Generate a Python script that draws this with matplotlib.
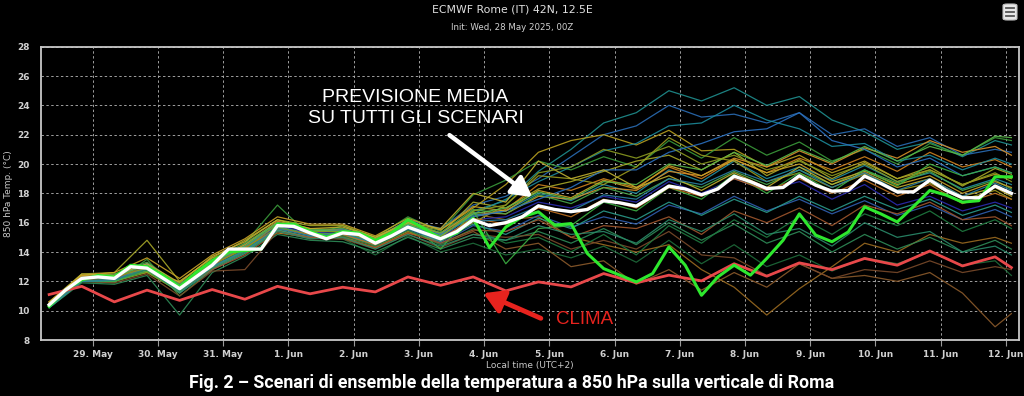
import matplotlib
matplotlib.use("Agg")
import matplotlib.pyplot as plt
from matplotlib.patches import FancyBboxPatch
from matplotlib.lines import Line2D

# ---------------- data ----------------
# lead times (hours after init 28 May 2025 00Z = 02:00 local)
lead_hours = list(range(6, 361, 6))
member_hours = list(range(6, 355, 12)) + [360]
clim_hours = list(range(6, 355, 12)) + [360]

tick_days = list(range(0, 15))
tick_labels = ["29. May", "30. May", "31. May", "1. Jun", "2. Jun", "3. Jun", "4. Jun",
               "5. Jun", "6. Jun", "7. Jun", "8. Jun", "9. Jun", "10. Jun", "11. Jun", "12. Jun"]
y_ticks = [8, 10, 12, 14, 16, 18, 20, 22, 24, 26, 28]

mean_temp = [10.4, 11.4, 12.2, 12.3, 12.2, 13.0, 12.9, 12.2, 11.5, 12.3,
             13.1, 14.2, 14.2, 14.2, 15.8, 15.75, 15.3, 14.9, 15.3, 15.2,
             14.6, 15.1, 15.7, 15.3, 14.9, 15.4, 16.2, 15.8, 16.0, 16.4,
             17.15, 16.9, 16.75, 16.9, 17.5, 17.35, 17.13, 17.8, 18.5, 18.3,
             17.9, 18.3, 19.17, 18.8, 18.33, 18.4, 19.2, 18.56, 18.15, 18.2,
             19.17, 18.67, 18.1, 18.1, 18.9, 18.2, 17.7, 17.7, 18.5, 18.0]

control_temp = [10.3, 11.4, 12.1, 12.4, 12.3, 13.1, 13.0, 12.4, 11.6, 12.6,
                13.4, 14.0, 14.1, 14.2, 15.9, 15.9, 15.4, 15.0, 15.4, 15.3,
                14.8, 15.3, 16.2, 15.6, 14.9, 15.3, 16.3, 14.3, 15.7, 16.4,
                16.74, 15.83, 15.94, 13.9, 12.87, 12.42, 11.96, 12.53, 14.35, 13.1,
                11.05, 12.3, 13.1, 12.42, 13.56, 14.8, 16.6, 15.15, 14.7, 15.37,
                17.08, 16.6, 16.05, 17.1, 18.2, 17.88, 17.4, 17.5, 19.13, 19.13]

clim_temp = [11.1, 11.66, 10.6, 11.4, 10.7, 11.44, 10.78, 11.66, 11.15, 11.6,
             11.28, 12.3, 11.73, 12.3, 11.35, 11.96, 11.62, 12.53, 11.9, 12.42,
             12.03, 13.2, 12.35, 13.26, 12.8, 13.56, 13.1, 14.07, 13.05, 13.67, 12.94]

m01 = [10.3, 12.1, 12.3, 13.2, 11.4, 13.0, 14.5, 16.0, 15.4, 15.5, 14.7, 16.0, 15.2, 16.8, 17.5, 19.5, 21.0, 22.8, 23.5, 25.0, 24.3, 25.2, 24.0, 24.6, 23.0, 22.2, 21.0, 21.5, 20.5, 21.6, 21.3]
m02 = [10.5, 12.2, 12.0, 13.0, 11.8, 13.4, 14.0, 15.6, 15.2, 15.6, 14.9, 16.2, 15.6, 17.2, 17.8, 19.0, 20.5, 22.0, 22.6, 24.0, 23.2, 23.4, 22.8, 23.5, 22.0, 22.4, 21.2, 21.8, 20.6, 21.0, 20.8]
m03 = [10.4, 12.4, 12.5, 12.8, 11.6, 13.2, 14.3, 15.7, 15.3, 15.0, 14.5, 15.9, 15.5, 17.0, 18.6, 20.8, 21.6, 22.0, 21.3, 22.3, 20.9, 21.0, 19.8, 20.6, 19.4, 20.2, 19.0, 19.6, 18.6, 19.3, 19.0]
m04 = [10.2, 12.0, 11.9, 13.5, 11.0, 12.8, 14.6, 17.2, 15.1, 15.8, 15.0, 16.4, 15.4, 17.9, 18.9, 20.2, 19.6, 20.5, 19.8, 21.6, 20.4, 21.8, 20.6, 21.5, 20.2, 21.0, 20.0, 21.4, 20.6, 21.8, 21.6]
m05 = [10.6, 12.3, 12.4, 12.6, 12.0, 13.6, 14.1, 15.3, 15.0, 14.9, 14.3, 15.3, 14.8, 16.4, 16.9, 18.6, 18.2, 19.0, 18.4, 19.8, 19.0, 20.3, 19.4, 20.4, 19.6, 20.5, 19.5, 20.8, 19.8, 20.3, 19.8]
m06 = [10.3, 12.1, 12.1, 12.7, 11.3, 12.9, 13.9, 15.5, 15.0, 14.9, 13.8, 15.1, 14.0, 14.6, 13.8, 14.2, 13.6, 14.4, 13.3, 14.8, 13.2, 14.5, 13.0, 13.8, 12.7, 13.6, 13.2, 14.0, 13.1, 13.4, 12.4]
m07 = [10.5, 12.2, 12.3, 13.0, 11.6, 13.0, 14.1, 15.6, 15.2, 15.2, 14.5, 15.5, 14.5, 15.4, 14.2, 14.6, 13.0, 13.4, 11.8, 12.8, 11.4, 12.6, 11.6, 13.2, 12.2, 12.4, 12.0, 12.6, 11.2, 8.9, 9.8]
m08 = [10.4, 12.3, 12.1, 12.8, 11.2, 13.3, 14.3, 15.9, 15.4, 15.4, 14.7, 15.9, 15.3, 16.6, 16.2, 16.4, 15.0, 14.5, 14.0, 14.5, 12.8, 11.6, 9.7, 11.5, 13.0, 14.6, 14.0, 15.2, 14.6, 15.0, 14.6]
m09 = [10.3, 12.2, 12.4, 13.1, 11.7, 13.3, 14.4, 15.8, 15.5, 15.4, 14.8, 15.9, 15.0, 16.5, 16.8, 18.0, 17.5, 18.6, 18.0, 19.6, 18.8, 20.2, 19.0, 19.8, 18.9, 19.9, 18.8, 19.4, 18.3, 19.0, 18.6]
m10 = [10.4, 12.1, 12.0, 12.8, 11.4, 13.0, 14.0, 15.7, 15.1, 15.2, 14.4, 15.5, 14.6, 15.8, 15.4, 16.5, 15.7, 16.4, 15.9, 17.2, 16.6, 17.8, 16.8, 17.6, 16.6, 17.5, 16.5, 17.2, 16.2, 16.9, 16.4]
m11 = [10.5, 12.5, 12.6, 14.8, 12.0, 13.6, 14.8, 16.2, 15.8, 15.8, 15.0, 16.1, 15.2, 17.4, 17.0, 18.3, 18.8, 19.5, 20.2, 20.6, 19.6, 20.8, 19.2, 20.3, 19.0, 20.1, 19.0, 19.8, 18.5, 19.7, 19.3]
m12 = [10.2, 11.9, 11.8, 12.4, 9.7, 12.6, 13.7, 15.2, 14.8, 14.7, 14.0, 15.0, 14.2, 15.0, 14.8, 15.4, 14.6, 15.6, 14.5, 16.0, 14.8, 15.9, 14.6, 15.4, 14.0, 15.2, 14.2, 15.0, 14.0, 14.8, 14.2]
m13 = [10.4, 12.2, 12.2, 12.9, 11.5, 13.1, 14.2, 15.8, 15.3, 15.4, 14.6, 15.7, 15.0, 16.2, 16.4, 17.4, 17.0, 17.8, 17.4, 18.8, 18.0, 19.0, 18.2, 18.8, 17.6, 18.6, 17.2, 17.8, 16.8, 17.4, 17.0]
m14 = [10.6, 12.4, 12.3, 12.7, 11.7, 13.4, 14.5, 16.1, 15.6, 15.5, 14.9, 16.0, 15.3, 16.7, 16.6, 17.8, 17.6, 18.4, 18.2, 19.5, 19.2, 20.4, 19.8, 20.9, 20.0, 21.1, 20.4, 21.6, 20.8, 21.2, 20.6]
m15 = [10.3, 12.0, 12.2, 13.0, 11.4, 12.9, 14.1, 15.7, 15.2, 15.3, 14.5, 15.8, 15.1, 16.6, 17.6, 18.8, 19.8, 20.9, 21.4, 22.6, 22.8, 24.0, 23.0, 22.4, 21.2, 21.4, 20.2, 20.6, 19.6, 20.4, 20.0]
m16 = [10.4, 12.3, 12.5, 13.3, 11.8, 13.5, 14.6, 16.0, 15.5, 15.6, 14.8, 16.1, 15.3, 16.9, 16.6, 17.9, 17.3, 18.4, 17.8, 19.0, 18.4, 19.5, 18.6, 19.6, 18.6, 19.6, 18.7, 19.5, 18.2, 18.9, 18.3]
m17 = [10.5, 12.2, 12.0, 12.6, 11.3, 12.9, 14.0, 15.5, 15.0, 15.1, 14.4, 15.4, 14.7, 16.0, 17.2, 19.2, 19.0, 18.6, 19.8, 21.8, 20.6, 20.2, 18.8, 19.4, 18.4, 19.3, 18.2, 18.7, 17.6, 18.2, 17.6]
m18 = [10.3, 12.0, 11.9, 12.5, 11.0, 12.7, 12.8, 15.4, 14.9, 14.9, 14.2, 15.2, 14.3, 15.2, 15.0, 15.2, 14.2, 14.8, 14.2, 15.4, 13.8, 13.6, 12.4, 13.2, 12.2, 12.8, 12.6, 13.4, 12.6, 13.0, 12.8]
m19 = [10.4, 12.3, 12.4, 13.2, 11.6, 13.2, 14.3, 15.9, 15.4, 15.5, 14.7, 15.8, 15.2, 16.4, 16.8, 17.6, 18.4, 19.6, 19.6, 20.8, 21.4, 22.2, 22.4, 23.5, 21.6, 21.0, 19.8, 20.4, 19.2, 19.8, 19.4]
m20 = [10.5, 12.2, 12.1, 12.8, 11.5, 13.1, 14.2, 15.6, 15.2, 15.1, 14.4, 15.5, 14.5, 15.6, 14.6, 15.0, 14.0, 15.2, 13.8, 15.8, 14.6, 16.2, 15.0, 16.4, 15.2, 16.6, 15.8, 16.8, 15.4, 16.2, 15.6]
m21 = [10.4, 12.4, 12.6, 13.6, 12.2, 13.8, 14.9, 16.4, 15.9, 15.9, 15.1, 16.3, 15.5, 17.1, 16.8, 18.2, 17.7, 18.9, 18.3, 19.9, 19.2, 20.3, 19.4, 20.0, 18.8, 19.5, 18.6, 19.2, 18.0, 18.8, 18.4]
m22 = [10.2, 12.0, 12.0, 12.9, 11.2, 12.8, 13.9, 15.5, 15.0, 15.2, 14.5, 15.6, 14.8, 15.9, 15.2, 16.3, 15.6, 16.8, 16.2, 17.4, 16.5, 17.6, 16.7, 17.8, 16.8, 17.8, 16.9, 17.6, 16.5, 17.2, 16.7]
m23 = [10.3, 12.1, 12.0, 12.7, 11.3, 13.0, 14.1, 15.7, 15.2, 15.3, 14.6, 16.0, 14.2, 16.8, 13.2, 15.6, 15.8, 17.4, 16.8, 18.4, 17.6, 19.3, 18.0, 19.4, 18.1, 19.6, 18.5, 20.0, 19.2, 19.8, 19.4]
m24 = [10.5, 12.3, 12.2, 13.0, 11.6, 13.1, 14.3, 15.6, 15.2, 15.2, 14.5, 15.7, 14.9, 16.3, 15.9, 17.0, 16.4, 17.6, 17.0, 18.4, 17.8, 19.0, 18.2, 19.0, 18.0, 18.9, 17.8, 18.6, 17.3, 18.0, 17.6]
m25 = [10.4, 12.2, 12.3, 13.1, 11.7, 13.3, 14.4, 16.0, 15.5, 15.4, 14.7, 15.9, 15.1, 16.6, 17.0, 18.1, 17.6, 18.8, 18.6, 20.0, 19.6, 20.8, 19.9, 21.0, 20.1, 21.2, 20.2, 21.2, 20.6, 21.9, 21.8]
m26 = [10.3, 12.1, 12.2, 13.0, 11.4, 12.8, 13.8, 15.4, 15.0, 15.0, 14.3, 15.3, 14.6, 15.5, 15.4, 16.2, 15.0, 15.8, 15.6, 16.4, 15.2, 16.8, 16.0, 17.0, 15.8, 17.2, 16.6, 17.4, 16.2, 16.4, 15.8]
m27 = [10.4, 12.2, 12.1, 12.8, 11.3, 12.9, 14.0, 15.4, 14.9, 15.0, 14.2, 15.2, 14.4, 15.2, 14.8, 15.8, 15.2, 15.4, 14.6, 16.2, 15.4, 16.6, 15.2, 15.6, 14.4, 16.0, 15.0, 15.4, 14.0, 14.4, 13.8]
m28 = [10.6, 12.5, 12.4, 13.2, 11.9, 13.7, 14.7, 16.2, 15.6, 15.7, 15.0, 16.0, 15.6, 18.0, 17.4, 20.2, 19.0, 19.6, 18.4, 19.2, 18.2, 19.4, 18.4, 19.8, 18.6, 19.4, 18.4, 19.0, 17.8, 18.4, 17.8]
m29 = [10.3, 12.0, 12.1, 13.0, 11.4, 13.0, 14.1, 15.6, 15.1, 15.3, 14.6, 15.6, 14.7, 16.1, 16.2, 17.1, 16.8, 17.9, 17.6, 19.0, 18.6, 19.6, 18.8, 19.6, 18.4, 19.4, 18.2, 19.0, 17.8, 18.7, 18.2]
m30 = [10.4, 12.3, 12.3, 12.9, 11.6, 13.2, 14.2, 15.9, 15.4, 15.4, 14.7, 15.7, 15.0, 16.8, 17.2, 19.4, 19.8, 21.0, 20.4, 21.2, 20.0, 20.6, 19.6, 20.2, 19.2, 20.0, 18.8, 19.6, 18.6, 19.4, 18.8]

members = [m01, m02, m03, m04, m05, m06, m07, m08, m09, m10, m11, m12, m13, m14, m15,
           m16, m17, m18, m19, m20, m21, m22, m23, m24, m25, m26, m27, m28, m29, m30]

# ---------------- style ----------------
member_colors = ["#1f8f8f", "#2a6db5", "#b8a020", "#3a9a3a", "#d0821e", "#1e6b3a",
                 "#8b5a2b", "#9a6a20", "#238fa0", "#2f5fb0", "#a8a828", "#2e8b57",
                 "#2b2bb0", "#d8902a", "#1c8a9a", "#4aa84a", "#9a9a1e", "#7a4a2a",
                 "#2a70c0", "#1f7a40", "#c9a227", "#2a9a8a", "#3cb043", "#c07020",
                 "#5ab84a", "#a0562d", "#2a8a6a", "#c0b030", "#2a80a0", "#8a9a20"]

fig = plt.figure(figsize=(10.24, 3.96), dpi=100, facecolor="black")
W, H = 1024.0, 396.0
ax_l, ax_r, ax_t, ax_b = 40.7, 1019.0, 46.7, 340.0
ax = fig.add_axes([ax_l / W, 1 - ax_b / H, (ax_r - ax_l) / W, (ax_b - ax_t) / H])
ax.set_facecolor("black")


def to_day(hours):
    return [(h - 22) / 24.0 for h in hours]


x_lead = to_day(lead_hours)
x_mem = to_day(member_hours)
x_clim = to_day(clim_hours)

for i, m in enumerate(members):
    ax.plot(x_mem, m, color=member_colors[i % len(member_colors)], lw=0.9, alpha=0.9, zorder=2)

ax.plot(x_clim, clim_temp, color="#e8484a", lw=2.0, zorder=4)
ax.plot(x_lead, control_temp, color="#2ee82e", lw=2.2, zorder=5)
ax.plot(x_lead, mean_temp, color="white", lw=2.4, zorder=6)

ax.set_xlim(-0.796, 14.2)
ax.set_ylim(8, 28)
ax.set_yticks(y_ticks)
ax.set_xticks(tick_days)
ax.set_xticklabels(tick_labels)

label_font = ["Liberation Sans Narrow", "DejaVu Sans"]
ax.tick_params(axis="x", colors="#9a9a9a", length=4, width=0.8, pad=3,
               labelsize=6.5, labelcolor="#d0d0d0")
ax.tick_params(axis="y", length=0, pad=8, labelsize=6.5, labelcolor="#d0d0d0")
for lab in ax.get_xticklabels() + ax.get_yticklabels():
    lab.set_family(label_font)
    lab.set_fontweight("bold")

ax.grid(True, color="#b0b0b0", lw=0.7, linestyle=(0, (2.5, 2.5)), alpha=0.9)
ax.set_axisbelow(True)
for s in ax.spines.values():
    s.set_color("#c8c8c8")
    s.set_linewidth(1.3)

ax.set_ylabel("850 hPa Temp. (°C)", color="#c8c8c8", fontsize=6.5, family=label_font)
ax.yaxis.set_label_coords(-(ax_l - 13) / (ax_r - ax_l), 0.5)
ax.set_xlabel("Local time (UTC+2)", color="#c8c8c8", fontsize=6.5, family=label_font)
ax.xaxis.set_label_coords(0.5, -(361 - ax_b) / (ax_b - ax_t))

# titles
fig.text(0.5, 1 - 10 / H, "ECMWF Rome (IT) 42N, 12.5E", ha="center", va="center",
         color="#e0e0e0", fontsize=7.8, family=label_font)
fig.text(0.5, 1 - 28 / H, "Init: Wed, 28 May 2025, 00Z", ha="center", va="center",
         color="#d0d0d0", fontsize=6.2, family=label_font)

# hamburger icon
icon = FancyBboxPatch((1003 / W, 1 - 20 / H), 14 / W, 16 / H,
                      boxstyle="round,pad=0,rounding_size=0.004", transform=fig.transFigure,
                      facecolor="#e6e6e6", edgecolor="#bdbdbd", lw=0.8)
fig.patches.append(icon)
for yy in (8, 12, 16):
    fig.lines.append(Line2D([1006 / W, 1014 / W], [1 - yy / H, 1 - yy / H],
                            transform=fig.transFigure, color="#555555", lw=1.3))

# annotations
ann_font = ["Liberation Sans", "DejaVu Sans"]
ax.text(4.95, 24.57, "PREVISIONE MEDIA", color="white", fontsize=14, ha="center",
        va="center", family=ann_font, zorder=10)
ax.text(4.95, 23.13, "SU TUTTI GLI SCENARI", color="white", fontsize=14, ha="center",
        va="center", family=ann_font, zorder=10)
ax.annotate("", xy=(6.74, 17.74), xytext=(5.47, 21.97),
            arrowprops=dict(arrowstyle="-|>,head_length=1.0,head_width=0.55",
                            color="white", lw=3.2, mutation_scale=12,
                            shrinkA=0, shrinkB=0), zorder=10)

ax.text(7.54, 9.41, "CLIMA", color="#e8231e", fontsize=13.5, ha="center", va="center",
        family=ann_font, zorder=10)
ax.annotate("", xy=(5.99, 11.19), xytext=(6.87, 9.48),
            arrowprops=dict(arrowstyle="-|>,head_length=1.0,head_width=0.6",
                            color="#e8231e", lw=3.5, mutation_scale=12,
                            shrinkA=0, shrinkB=0), zorder=10)

# caption
fig.text(0.5, 1 - 383 / H,
         "Fig. 2 \u2013 Scenari di ensemble della temperatura a 850 hPa sulla verticale di Roma",
         ha="center", va="center", color="white", fontsize=12.8, fontweight="bold",
         family=["Roboto", "DejaVu Sans"])

fig.savefig("out.png", dpi=100, facecolor="black")
